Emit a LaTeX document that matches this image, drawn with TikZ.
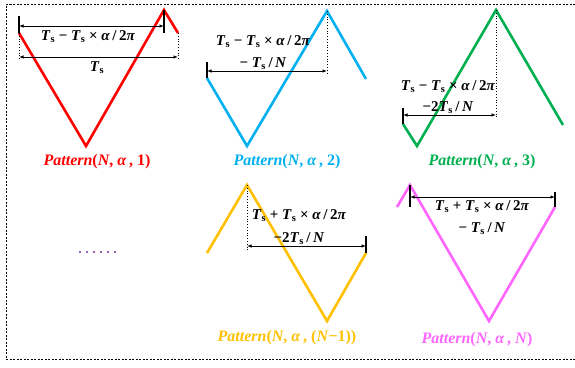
\documentclass[tikz,border=0pt]{standalone}
\usepackage{fontspec}
\setmainfont{Liberation Serif}
\usepackage{xcolor}
\usetikzlibrary{arrows.meta}

\definecolor{patRed}{RGB}{255,0,0}
\definecolor{patBlue}{RGB}{0,176,240}
\definecolor{patGreen}{RGB}{0,176,80}
\definecolor{patGold}{RGB}{255,192,0}
\definecolor{patPink}{RGB}{255,102,255}
\definecolor{patPurple}{RGB}{112,48,160}

\newcommand{\Ts}{\textit{T}\textsubscript{s}}
\newcommand{\pat}[1]{\textit{Pattern}(\textit{N}, \textit{α}\,, #1)}

\begin{document}
\begin{tikzpicture}[
  x=1pt, y=-1pt,
  wave/.style={line width=2.6pt},
  span/.style={{Latex[length=4.5pt,width=3.5pt]}-{Latex[length=4.5pt,width=3.5pt]}, line width=0.8pt},
  tickmark/.style={line width=1.2pt},
  guide/.style={dotted, line width=0.8pt},
  formula/.style={font=\bfseries\fontsize{15}{19}\selectfont, align=center, inner sep=0pt},
  caption/.style={font=\bfseries\fontsize{16}{18}\selectfont, inner sep=0pt},
  frame/.style={dash pattern=on 2pt off 1.5pt, line width=1pt}
]
  \useasboundingbox (0,0) rectangle (575,367);

  % --- outer frame --------------------------------------------------
  \coordinate (f0) at (575,4);
  \coordinate (f1) at (6,4);
  \coordinate (f2) at (6,359);
  \coordinate (f3) at (575,359);
  \draw[frame] (f0) -- (f1) -- (f2) -- (f3);

  % --- pattern 1 ----------------------------------------------------
  \coordinate (a0) at (19,33);
  \coordinate (a1) at (86,146);
  \coordinate (a2) at (164,10);
  \coordinate (a3) at (178,33);
  \draw[wave, patRed] (a0) -- (a1) -- (a2) -- (a3);
  \coordinate (a0t) at (19,16);
  \coordinate (a0b) at (19,60);
  \coordinate (a2b) at (164,33);
  \coordinate (a3b) at (178,60);
  \draw[tickmark] (a0t) -- (a0);
  \draw[tickmark] (a2) -- (a2b);
  \draw[guide] (a0) -- (a0b);
  \draw[guide] (a3) -- (a3b);
  \coordinate (a4) at (19,26);
  \coordinate (a5) at (164,26);
  \coordinate (a6) at (19,57);
  \coordinate (a7) at (178,57);
  \draw[span] (a4) -- (a5);
  \draw[span] (a6) -- (a7);
  \node[formula] (fa1) at (88,37) {\Ts\ − \Ts\ × \textit{α}\,/\,2\textit{π}};
  \node[formula] (fa2) at (97,68) {\Ts};
  \node[caption, patRed] (ca) at (97,162) {\pat{1}};

  % --- pattern 2 ----------------------------------------------------
  \coordinate (b0) at (207,78);
  \coordinate (b1) at (247,146);
  \coordinate (b2) at (327,11);
  \coordinate (b3) at (366,79);
  \draw[wave, patBlue] (b0) -- (b1) -- (b2) -- (b3);
  \coordinate (b0t) at (207,62);
  \coordinate (b2b) at (327,75);
  \coordinate (b4) at (207,71);
  \coordinate (b5) at (327,71);
  \draw[tickmark] (b0t) -- (b0);
  \draw[guide] (b2) -- (b2b);
  \draw[span] (b4) -- (b5);
  \node[formula] (fb) at (263,53) {\Ts\ − \Ts\ × \textit{α}\,/\,2\textit{π}\\[3pt]− \Ts\,/\,\textit{N}};
  \node[caption, patBlue] (cb) at (287,162) {\pat{2}};

  % --- pattern 3 ----------------------------------------------------
  \coordinate (c0) at (403,124);
  \coordinate (c1) at (417,146);
  \coordinate (c2) at (496,10);
  \coordinate (c3) at (563,125);
  \draw[wave, patGreen] (c0) -- (c1) -- (c2) -- (c3);
  \coordinate (c0t) at (403,108);
  \coordinate (c2b) at (496,118);
  \coordinate (c4) at (403,115);
  \coordinate (c5) at (496,115);
  \draw[tickmark] (c0t) -- (c0);
  \draw[guide] (c2) -- (c2b);
  \draw[span] (c4) -- (c5);
  \node[formula] (fc) at (448,97) {\Ts\ − \Ts\ × \textit{α}\,/\,2\textit{π}\\[2pt]−2\Ts\,/\,\textit{N}};
  \node[caption, patGreen] (cc) at (482,162) {\pat{3}};

  % --- dots ---------------------------------------------------------
  \foreach \i in {0,...,5}
    \fill[patPurple] (80+\i*7,252) circle (1.1pt);

  % --- pattern N-1 --------------------------------------------------
  \coordinate (d0) at (207,253);
  \coordinate (d1) at (247,185);
  \coordinate (d2) at (327,321);
  \coordinate (d3) at (366,253);
  \draw[wave, patGold] (d0) -- (d1) -- (d2) -- (d3);
  \coordinate (d1b) at (247,250);
  \coordinate (d3t) at (366,236);
  \coordinate (d4) at (247,246);
  \coordinate (d5) at (366,246);
  \draw[guide] (d1) -- (d1b);
  \draw[tickmark] (d3t) -- (d3);
  \draw[span] (d4) -- (d5);
  \node[formula] (fd) at (299,227) {\Ts\ + \Ts\ × \textit{α}\,/\,2\textit{π}\\[4pt]−2\Ts\,/\,\textit{N}};
  \node[caption, patGold] (cd) at (287,338) {\pat{(\textit{N}−1)}};

  % --- pattern N ----------------------------------------------------
  \coordinate (e0) at (397,207);
  \coordinate (e1) at (410,185);
  \coordinate (e2) at (489,321);
  \coordinate (e3) at (555,207);
  \draw[wave, patPink] (e0) -- (e1) -- (e2) -- (e3);
  \coordinate (e1b) at (410,207);
  \coordinate (e3t) at (555,192);
  \coordinate (e4) at (410,197);
  \coordinate (e5) at (555,197);
  \draw[tickmark] (e1) -- (e1b);
  \draw[tickmark] (e3t) -- (e3);
  \draw[span] (e4) -- (e5);
  \node[formula] (fe) at (482,218) {\Ts\ + \Ts\ × \textit{α}\,/\,2\textit{π}\\[3pt]− \Ts\,/\,\textit{N}};
  \node[caption, patPink] (ce) at (477,340) {\pat{\textit{N}}};
\end{tikzpicture}
\end{document}
